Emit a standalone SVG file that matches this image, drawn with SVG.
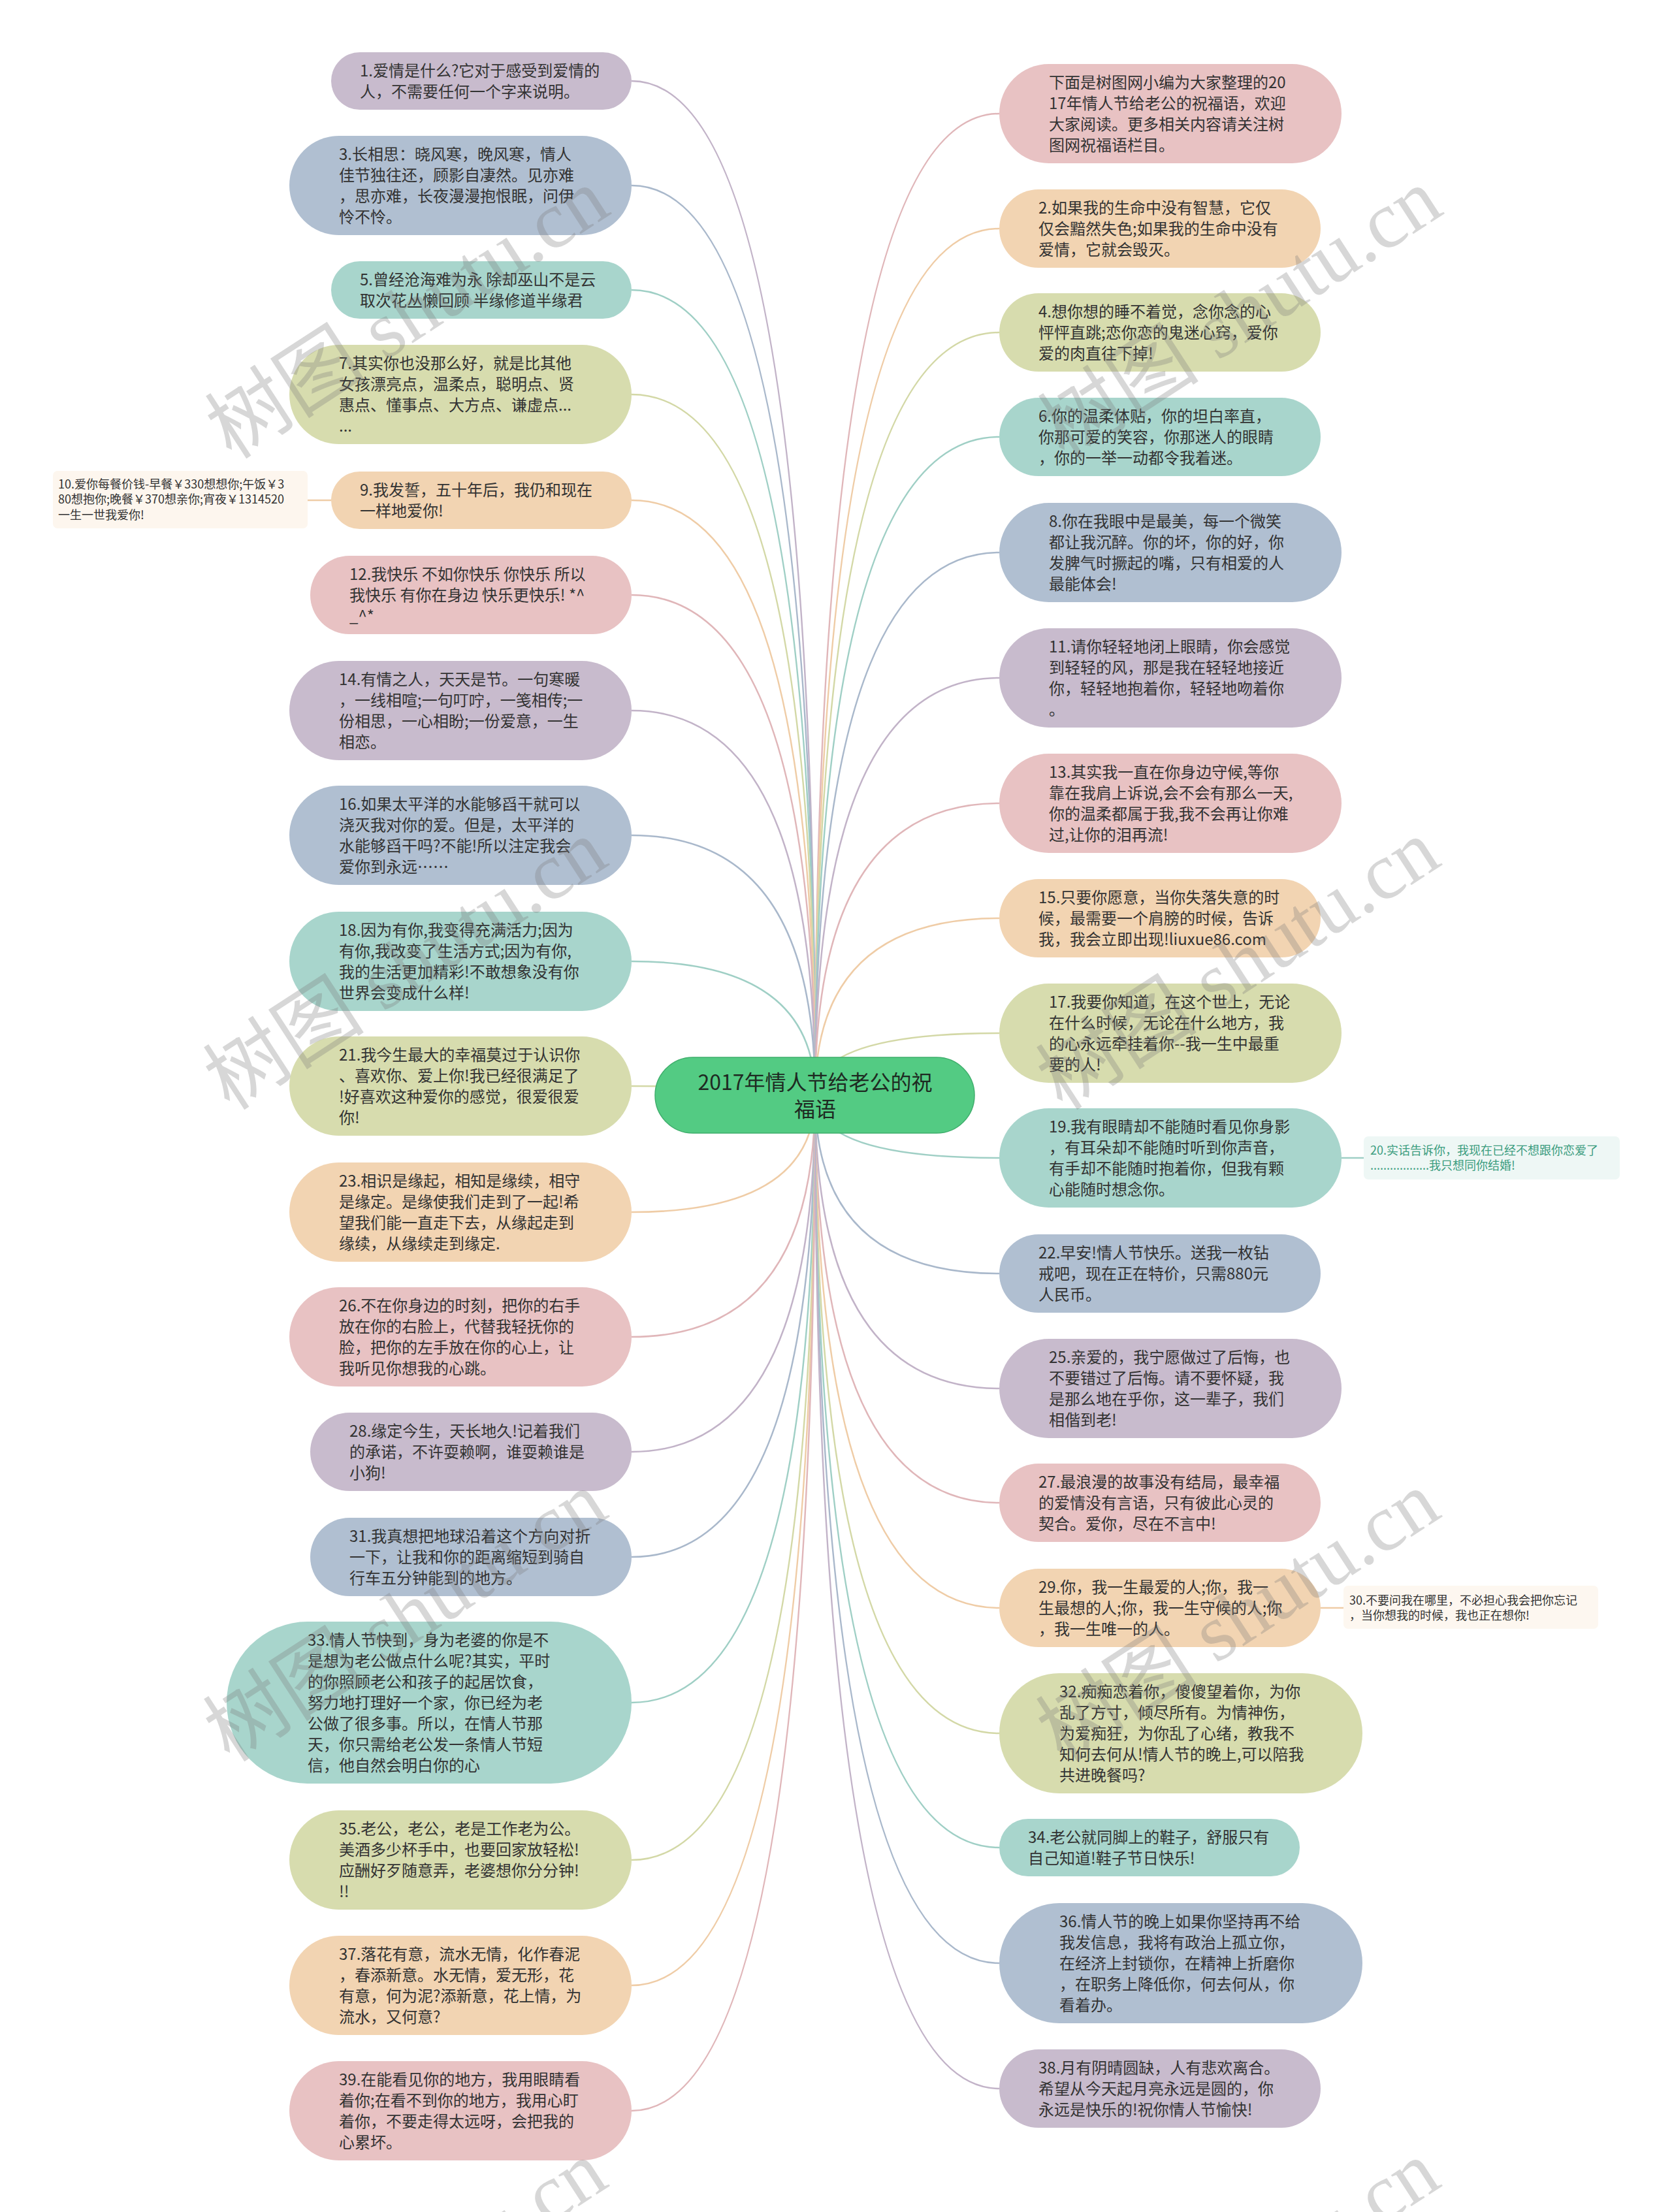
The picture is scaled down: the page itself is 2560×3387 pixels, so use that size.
<svg xmlns="http://www.w3.org/2000/svg" width="2560" height="3387" viewBox="0 0 2560 3387">
<style>
text{font-family:"Noto Sans CJK SC","Noto Sans",sans-serif;}
.t{font-size:24px;fill:#333333;}
.s{font-size:18px;fill:#333333;}
.sg{font-size:18px;fill:#3c9d7f;}
.rt{font-size:32px;fill:#1e2a22;text-anchor:middle;}
.pu{fill:#c8bbcd}.bl{fill:#b0bfd1}.te{fill:#a8d5cc}.gr{fill:#d7dcae}.or{fill:#f2d4b2}.pk{fill:#e8c2c3}
.c{fill:none;stroke-width:2.5;}
.cpu{stroke:#c2b3c8}.cbl{stroke:#a9b8cb}.cte{stroke:#9fcfc5}.cgr{stroke:#d3d8a6}.cor{stroke:#efcca6}.cpk{stroke:#e0b6b9}
.wm{font-family:"Liberation Serif","Noto Sans CJK SC",serif;font-size:124px;fill:#7a7a7a;fill-opacity:0.3;}
</style>
<rect width="2560" height="3387" fill="#ffffff"/>
<g id="connectors">
<path class="c cpu" d="M967 124Q1248 124 1248 1677"/>
<path class="c cbl" d="M967 284Q1248 284 1248 1677"/>
<path class="c cte" d="M967 444Q1248 444 1248 1677"/>
<path class="c cgr" d="M967 604Q1248 604 1248 1677"/>
<path class="c cor" d="M967 766Q1248 766 1248 1677"/>
<path class="c cor" d="M507 766L471 766"/>
<path class="c cpk" d="M967 911Q1248 911 1248 1677"/>
<path class="c cpu" d="M967 1088Q1248 1088 1248 1677"/>
<path class="c cbl" d="M967 1279Q1248 1279 1248 1677"/>
<path class="c cte" d="M967 1472Q1248 1472 1248 1677"/>
<path class="c cgr" d="M967 1663Q1248 1663 1248 1677"/>
<path class="c cor" d="M967 1856Q1248 1856 1248 1677"/>
<path class="c cpk" d="M967 2047Q1248 2047 1248 1677"/>
<path class="c cpu" d="M967 2223Q1248 2223 1248 1677"/>
<path class="c cbl" d="M967 2384Q1248 2384 1248 1677"/>
<path class="c cte" d="M967 2607Q1248 2607 1248 1677"/>
<path class="c cgr" d="M967 2848Q1248 2848 1248 1677"/>
<path class="c cor" d="M967 3040Q1248 3040 1248 1677"/>
<path class="c cpk" d="M967 3232Q1248 3232 1248 1677"/>
<path class="c cpk" d="M1530 174Q1248 174 1248 1677"/>
<path class="c cor" d="M1530 350Q1248 350 1248 1677"/>
<path class="c cgr" d="M1530 509Q1248 509 1248 1677"/>
<path class="c cte" d="M1530 669Q1248 669 1248 1677"/>
<path class="c cbl" d="M1530 846Q1248 846 1248 1677"/>
<path class="c cpu" d="M1530 1038Q1248 1038 1248 1677"/>
<path class="c cpk" d="M1530 1230Q1248 1230 1248 1677"/>
<path class="c cor" d="M1530 1406Q1248 1406 1248 1677"/>
<path class="c cgr" d="M1530 1582Q1248 1582 1248 1677"/>
<path class="c cte" d="M1530 1773Q1248 1773 1248 1677"/>
<path class="c cte" d="M2054 1773L2088 1773"/>
<path class="c cbl" d="M1530 1950Q1248 1950 1248 1677"/>
<path class="c cpu" d="M1530 2126Q1248 2126 1248 1677"/>
<path class="c cpk" d="M1530 2301Q1248 2301 1248 1677"/>
<path class="c cor" d="M1530 2462Q1248 2462 1248 1677"/>
<path class="c cor" d="M2022 2462L2057 2462"/>
<path class="c cgr" d="M1530 2654Q1248 2654 1248 1677"/>
<path class="c cte" d="M1530 2829Q1248 2829 1248 1677"/>
<path class="c cbl" d="M1530 3006Q1248 3006 1248 1677"/>
<path class="c cpu" d="M1530 3198Q1248 3198 1248 1677"/>
</g>
<g id="root">
<rect x="1003" y="1619" width="489" height="116" rx="58" fill="#53cb83" stroke="#3fae6c" stroke-width="1.5"/>
<text class="rt" x="1248" y="1669">2017年情人节给老公的祝</text>
<text class="rt" x="1248" y="1710">福语</text>
</g>
<g id="n1"><rect class="pu" x="507" y="80" width="460" height="88" rx="44"/><text class="t" x="551" y="117">1.爱情是什么?它对于感受到爱情的</text><text class="t" x="551" y="149">人，不需要任何一个字来说明。</text></g>
<g id="n3"><rect class="bl" x="443" y="208" width="524" height="152" rx="76"/><text class="t" x="519" y="245">3.长相思：晓风寒，晚风寒，情人</text><text class="t" x="519" y="277">佳节独往还，顾影自凄然。见亦难</text><text class="t" x="519" y="309">，思亦难，长夜漫漫抱恨眠，问伊</text><text class="t" x="519" y="341">怜不怜。</text></g>
<g id="n5"><rect class="te" x="507" y="400" width="460" height="88" rx="44"/><text class="t" x="551" y="437">5.曾经沧海难为永 除却巫山不是云</text><text class="t" x="551" y="469">取次花丛懒回顾 半缘修道半缘君</text></g>
<g id="n7"><rect class="gr" x="443" y="528" width="524" height="152" rx="76"/><text class="t" x="519" y="565">7.其实你也没那么好，就是比其他</text><text class="t" x="519" y="597">女孩漂亮点，温柔点，聪明点、贤</text><text class="t" x="519" y="629">惠点、懂事点、大方点、谦虚点...</text><text class="t" x="519" y="661">...</text></g>
<g id="n9"><rect class="or" x="507" y="722" width="460" height="88" rx="44"/><text class="t" x="551" y="759">9.我发誓，五十年后，我仍和现在</text><text class="t" x="551" y="791">一样地爱你!</text></g>
<g id="n10"><rect x="81" y="721" width="390" height="88" rx="7" fill="#fdf6ee"/><text class="s" x="89" y="748">10.爱你每餐价钱-早餐￥330想想你;午饭￥3</text><text class="s" x="89" y="771">80想抱你;晚餐￥370想亲你;宵夜￥1314520</text><text class="s" x="89" y="795">一生一世我爱你!</text></g>
<g id="n12"><rect class="pk" x="475" y="851" width="492" height="120" rx="60"/><text class="t" x="535" y="888">12.我快乐 不如你快乐 你快乐 所以</text><text class="t" x="535" y="920">我快乐 有你在身边 快乐更快乐! *^</text><text class="t" x="535" y="952">_^*</text></g>
<g id="n14"><rect class="pu" x="443" y="1012" width="524" height="152" rx="76"/><text class="t" x="519" y="1049">14.有情之人，天天是节。一句寒暖</text><text class="t" x="519" y="1081">，一线相喧;一句叮咛，一笺相传;一</text><text class="t" x="519" y="1113">份相思，一心相盼;一份爱意，一生</text><text class="t" x="519" y="1145">相恋。</text></g>
<g id="n16"><rect class="bl" x="443" y="1203" width="524" height="152" rx="76"/><text class="t" x="519" y="1240">16.如果太平洋的水能够舀干就可以</text><text class="t" x="519" y="1272">浇灭我对你的爱。但是，太平洋的</text><text class="t" x="519" y="1304">水能够舀干吗?不能!所以注定我会</text><text class="t" x="519" y="1336">爱你到永远……</text></g>
<g id="n18"><rect class="te" x="443" y="1396" width="524" height="152" rx="76"/><text class="t" x="519" y="1433">18.因为有你,我变得充满活力;因为</text><text class="t" x="519" y="1465">有你,我改变了生活方式;因为有你,</text><text class="t" x="519" y="1497">我的生活更加精彩!不敢想象没有你</text><text class="t" x="519" y="1529">世界会变成什么样!</text></g>
<g id="n21"><rect class="gr" x="443" y="1587" width="524" height="152" rx="76"/><text class="t" x="519" y="1624">21.我今生最大的幸福莫过于认识你</text><text class="t" x="519" y="1656">、喜欢你、爱上你!我已经很满足了</text><text class="t" x="519" y="1688">!好喜欢这种爱你的感觉，很爱很爱</text><text class="t" x="519" y="1720">你!</text></g>
<g id="n23"><rect class="or" x="443" y="1780" width="524" height="152" rx="76"/><text class="t" x="519" y="1817">23.相识是缘起，相知是缘续，相守</text><text class="t" x="519" y="1849">是缘定。是缘使我们走到了一起!希</text><text class="t" x="519" y="1881">望我们能一直走下去，从缘起走到</text><text class="t" x="519" y="1913">缘续，从缘续走到缘定.</text></g>
<g id="n26"><rect class="pk" x="443" y="1971" width="524" height="152" rx="76"/><text class="t" x="519" y="2008">26.不在你身边的时刻，把你的右手</text><text class="t" x="519" y="2040">放在你的右脸上，代替我轻抚你的</text><text class="t" x="519" y="2072">脸，把你的左手放在你的心上，让</text><text class="t" x="519" y="2104">我听见你想我的心跳。</text></g>
<g id="n28"><rect class="pu" x="475" y="2163" width="492" height="120" rx="60"/><text class="t" x="535" y="2200">28.缘定今生，天长地久!记着我们</text><text class="t" x="535" y="2232">的承诺，不许耍赖啊，谁耍赖谁是</text><text class="t" x="535" y="2264">小狗!</text></g>
<g id="n31"><rect class="bl" x="475" y="2324" width="492" height="120" rx="60"/><text class="t" x="535" y="2361">31.我真想把地球沿着这个方向对折</text><text class="t" x="535" y="2393">一下，让我和你的距离缩短到骑自</text><text class="t" x="535" y="2425">行车五分钟能到的地方。</text></g>
<g id="n33"><rect class="te" x="347" y="2483" width="620" height="248" rx="124"/><text class="t" x="471" y="2520">33.情人节快到，身为老婆的你是不</text><text class="t" x="471" y="2552">是想为老公做点什么呢?其实，平时</text><text class="t" x="471" y="2584">的你照顾老公和孩子的起居饮食，</text><text class="t" x="471" y="2616">努力地打理好一个家，你已经为老</text><text class="t" x="471" y="2648">公做了很多事。所以，在情人节那</text><text class="t" x="471" y="2680">天，你只需给老公发一条情人节短</text><text class="t" x="471" y="2712">信，他自然会明白你的心</text></g>
<g id="n35"><rect class="gr" x="443" y="2772" width="524" height="152" rx="76"/><text class="t" x="519" y="2809">35.老公，老公，老是工作老为公。</text><text class="t" x="519" y="2841">美酒多少杯手中，也要回家放轻松!</text><text class="t" x="519" y="2873">应酬好歹随意弄，老婆想你分分钟!</text><text class="t" x="519" y="2905">!!</text></g>
<g id="n37"><rect class="or" x="443" y="2964" width="524" height="152" rx="76"/><text class="t" x="519" y="3001">37.落花有意，流水无情，化作春泥</text><text class="t" x="519" y="3033">，春添新意。水无情，爱无形，花</text><text class="t" x="519" y="3065">有意，何为泥?添新意，花上情，为</text><text class="t" x="519" y="3097">流水，又何意?</text></g>
<g id="n39"><rect class="pk" x="443" y="3156" width="524" height="152" rx="76"/><text class="t" x="519" y="3193">39.在能看见你的地方，我用眼睛看</text><text class="t" x="519" y="3225">着你;在看不到你的地方，我用心盯</text><text class="t" x="519" y="3257">着你，不要走得太远呀，会把我的</text><text class="t" x="519" y="3289">心累坏。</text></g>
<g id="n0"><rect class="pk" x="1530" y="98" width="524" height="152" rx="76"/><text class="t" x="1606" y="135">下面是树图网小编为大家整理的20</text><text class="t" x="1606" y="167">17年情人节给老公的祝福语，欢迎</text><text class="t" x="1606" y="199">大家阅读。更多相关内容请关注树</text><text class="t" x="1606" y="231">图网祝福语栏目。</text></g>
<g id="n2"><rect class="or" x="1530" y="290" width="492" height="120" rx="60"/><text class="t" x="1590" y="327">2.如果我的生命中没有智慧，它仅</text><text class="t" x="1590" y="359">仅会黯然失色;如果我的生命中没有</text><text class="t" x="1590" y="391">爱情，它就会毁灭。</text></g>
<g id="n4"><rect class="gr" x="1530" y="449" width="492" height="120" rx="60"/><text class="t" x="1590" y="486">4.想你想的睡不着觉，念你念的心</text><text class="t" x="1590" y="518">怦怦直跳;恋你恋的鬼迷心窍，爱你</text><text class="t" x="1590" y="550">爱的肉直往下掉!</text></g>
<g id="n6"><rect class="te" x="1530" y="609" width="492" height="120" rx="60"/><text class="t" x="1590" y="646">6.你的温柔体贴，你的坦白率直，</text><text class="t" x="1590" y="678">你那可爱的笑容，你那迷人的眼睛</text><text class="t" x="1590" y="710">，你的一举一动都令我着迷。</text></g>
<g id="n8"><rect class="bl" x="1530" y="770" width="524" height="152" rx="76"/><text class="t" x="1606" y="807">8.你在我眼中是最美，每一个微笑</text><text class="t" x="1606" y="839">都让我沉醉。你的坏，你的好，你</text><text class="t" x="1606" y="871">发脾气时撅起的嘴，只有相爱的人</text><text class="t" x="1606" y="903">最能体会!</text></g>
<g id="n11"><rect class="pu" x="1530" y="962" width="524" height="152" rx="76"/><text class="t" x="1606" y="999">11.请你轻轻地闭上眼睛，你会感觉</text><text class="t" x="1606" y="1031">到轻轻的风，那是我在轻轻地接近</text><text class="t" x="1606" y="1063">你，轻轻地抱着你，轻轻地吻着你</text><text class="t" x="1606" y="1095">。</text></g>
<g id="n13"><rect class="pk" x="1530" y="1154" width="524" height="152" rx="76"/><text class="t" x="1606" y="1191">13.其实我一直在你身边守候,等你</text><text class="t" x="1606" y="1223">靠在我肩上诉说,会不会有那么一天,</text><text class="t" x="1606" y="1255">你的温柔都属于我,我不会再让你难</text><text class="t" x="1606" y="1287">过,让你的泪再流!</text></g>
<g id="n15"><rect class="or" x="1530" y="1346" width="492" height="120" rx="60"/><text class="t" x="1590" y="1383">15.只要你愿意，当你失落失意的时</text><text class="t" x="1590" y="1415">候，最需要一个肩膀的时候，告诉</text><text class="t" x="1590" y="1447">我，我会立即出现!liuxue86.com</text></g>
<g id="n17"><rect class="gr" x="1530" y="1506" width="524" height="152" rx="76"/><text class="t" x="1606" y="1543">17.我要你知道，在这个世上，无论</text><text class="t" x="1606" y="1575">在什么时候，无论在什么地方，我</text><text class="t" x="1606" y="1607">的心永远牵挂着你--我一生中最重</text><text class="t" x="1606" y="1639">要的人!</text></g>
<g id="n19"><rect class="te" x="1530" y="1697" width="524" height="152" rx="76"/><text class="t" x="1606" y="1734">19.我有眼睛却不能随时看见你身影</text><text class="t" x="1606" y="1766">，有耳朵却不能随时听到你声音，</text><text class="t" x="1606" y="1798">有手却不能随时抱着你，但我有颗</text><text class="t" x="1606" y="1830">心能随时想念你。</text></g>
<g id="n20"><rect x="2088" y="1740" width="392" height="66" rx="7" fill="#eef7f5"/><text class="sg" x="2098" y="1768">20.实话告诉你，我现在已经不想跟你恋爱了</text><text class="sg" x="2098" y="1791">..................我只想同你结婚!</text></g>
<g id="n22"><rect class="bl" x="1530" y="1890" width="492" height="120" rx="60"/><text class="t" x="1590" y="1927">22.早安!情人节快乐。送我一枚钻</text><text class="t" x="1590" y="1959">戒吧，现在正在特价，只需880元</text><text class="t" x="1590" y="1991">人民币。</text></g>
<g id="n25"><rect class="pu" x="1530" y="2050" width="524" height="152" rx="76"/><text class="t" x="1606" y="2087">25.亲爱的，我宁愿做过了后悔，也</text><text class="t" x="1606" y="2119">不要错过了后悔。请不要怀疑，我</text><text class="t" x="1606" y="2151">是那么地在乎你，这一辈子，我们</text><text class="t" x="1606" y="2183">相偕到老!</text></g>
<g id="n27"><rect class="pk" x="1530" y="2241" width="492" height="120" rx="60"/><text class="t" x="1590" y="2278">27.最浪漫的故事没有结局，最幸福</text><text class="t" x="1590" y="2310">的爱情没有言语，只有彼此心灵的</text><text class="t" x="1590" y="2342">契合。爱你，尽在不言中!</text></g>
<g id="n29"><rect class="or" x="1530" y="2402" width="492" height="120" rx="60"/><text class="t" x="1590" y="2439">29.你，我一生最爱的人;你，我一</text><text class="t" x="1590" y="2471">生最想的人;你，我一生守候的人;你</text><text class="t" x="1590" y="2503">，我一生唯一的人。</text></g>
<g id="n30"><rect x="2057" y="2428" width="390" height="66" rx="7" fill="#fdf7f0"/><text class="s" x="2066" y="2457">30.不要问我在哪里，不必担心我会把你忘记</text><text class="s" x="2066" y="2480">，当你想我的时候，我也正在想你!</text></g>
<g id="n32"><rect class="gr" x="1530" y="2562" width="556" height="184" rx="92"/><text class="t" x="1622" y="2599">32.痴痴恋着你，傻傻望着你，为你</text><text class="t" x="1622" y="2631">乱了方寸，倾尽所有。为情神伤，</text><text class="t" x="1622" y="2663">为爱痴狂，为你乱了心绪，教我不</text><text class="t" x="1622" y="2695">知何去何从!情人节的晚上,可以陪我</text><text class="t" x="1622" y="2727">共进晚餐吗?</text></g>
<g id="n34"><rect class="te" x="1530" y="2785" width="460" height="88" rx="44"/><text class="t" x="1574" y="2822">34.老公就同脚上的鞋子，舒服只有</text><text class="t" x="1574" y="2854">自己知道!鞋子节日快乐!</text></g>
<g id="n36"><rect class="bl" x="1530" y="2914" width="556" height="184" rx="92"/><text class="t" x="1622" y="2951">36.情人节的晚上如果你坚持再不给</text><text class="t" x="1622" y="2983">我发信息，我将有政治上孤立你，</text><text class="t" x="1622" y="3015">在经济上封锁你，在精神上折磨你</text><text class="t" x="1622" y="3047">，在职务上降低你，何去何从，你</text><text class="t" x="1622" y="3079">看着办。</text></g>
<g id="n38"><rect class="pu" x="1530" y="3138" width="492" height="120" rx="60"/><text class="t" x="1590" y="3175">38.月有阴晴圆缺，人有悲欢离合。</text><text class="t" x="1590" y="3207">希望从今天起月亮永远是圆的，你</text><text class="t" x="1590" y="3239">永远是快乐的!祝你情人节愉快!</text></g>
<g id="watermarks">
<text class="wm" transform="translate(355 705) rotate(-33)">树图 shutu.cn</text>
<text class="wm" transform="translate(1630 705) rotate(-33)">树图 shutu.cn</text>
<text class="wm" transform="translate(352 1702) rotate(-33)">树图 shutu.cn</text>
<text class="wm" transform="translate(1627 1702) rotate(-33)">树图 shutu.cn</text>
<text class="wm" transform="translate(352 2700) rotate(-33)">树图 shutu.cn</text>
<text class="wm" transform="translate(1627 2700) rotate(-33)">树图 shutu.cn</text>
<text class="wm" transform="translate(352 3725) rotate(-33)">树图 shutu.cn</text>
<text class="wm" transform="translate(1627 3725) rotate(-33)">树图 shutu.cn</text>
</g>
</svg>
